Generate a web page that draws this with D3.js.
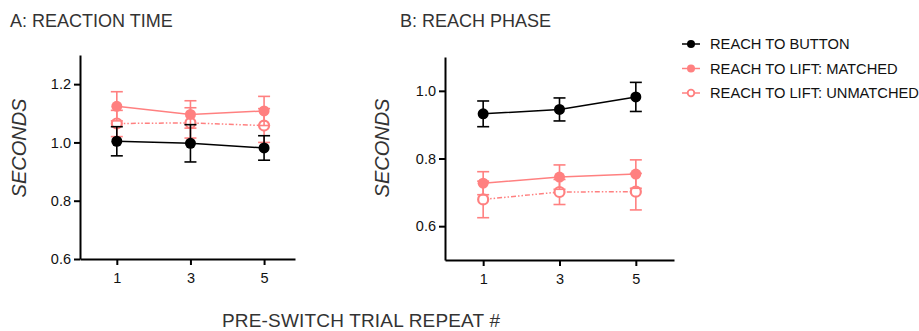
<!DOCTYPE html>
<html>
<head>
<meta charset="utf-8" />
<script src="https://cdn.jsdelivr.net/npm/d3@7"></script>
<style>
  html, body { margin: 0; padding: 0; background: #fff; }
  svg { font-family: "Liberation Sans", Arial, sans-serif; }
</style>
</head>
<body>
<div id="chart"></div>
<script>
// data
var repeats = [1, 3, 5];
var seriesNames = ['REACH TO BUTTON', 'REACH TO LIFT: MATCHED', 'REACH TO LIFT: UNMATCHED'];

var rtButton = [1.004, 0.997, 0.981];
var rtButtonErr = [0.050, 0.064, 0.042];
var rtMatched = [1.124, 1.096, 1.108];
var rtMatchedErr = [0.050, 0.047, 0.050];
var rtUnmatched = [1.065, 1.067, 1.058];
var rtUnmatchedErr = [0.045, 0.052, 0.058];

var rpButton = [0.932, 0.945, 0.982];
var rpButtonErr = [0.038, 0.034, 0.043];
var rpMatched = [0.727, 0.745, 0.754];
var rpMatchedErr = [0.034, 0.036, 0.042];
var rpUnmatched = [0.679, 0.701, 0.702];
var rpUnmatchedErr = [0.054, 0.037, 0.054];

var yTicksA = [0.6, 0.8, 1.0, 1.2];
var yTicksB = [0.6, 0.8, 1.0];

var pink = '#ff8080';

var svg = d3.select('#chart').append('svg')
    .attr('width', 919)
    .attr('height', 331);

function drawPanel(opts) {
    var x = d3.scaleLinear().domain([0, opts.xMax]).range([opts.left, opts.right]);
    var y = d3.scaleLinear().domain(opts.yDomain).range([opts.bottom, opts.top]);

    var g = svg.append('g');

    var series = [
        { vals: opts.button, err: opts.buttonErr, color: '#000', open: false, dash: null },
        { vals: opts.matched, err: opts.matchedErr, color: pink, open: false, dash: null },
        { vals: opts.unmatched, err: opts.unmatchedErr, color: pink, open: true, dash: '5,2,1.5,2,1.5,2' }
    ];
    // draw order: unmatched, matched, button
    var order = [2, 1, 0];

    var line = d3.line()
        .x(function (d, i) { return x(repeats[i]); })
        .y(function (d) { return y(d); });

    order.forEach(function (k) {
        var s = series[k];
        var sg = g.append('g');
        // error bars
        s.vals.forEach(function (v, i) {
            var cx = x(repeats[i]);
            sg.append('line')
                .attr('x1', cx).attr('x2', cx)
                .attr('y1', y(v - s.err[i])).attr('y2', y(v + s.err[i]))
                .attr('stroke', s.color).attr('stroke-width', 1.6);
            [v - s.err[i], v + s.err[i]].forEach(function (e) {
                sg.append('line')
                    .attr('x1', cx - 6).attr('x2', cx + 6)
                    .attr('y1', y(e)).attr('y2', y(e))
                    .attr('stroke', s.color).attr('stroke-width', 1.6);
            });
        });
        sg.append('path')
            .datum(s.vals)
            .attr('d', line)
            .attr('fill', 'none')
            .attr('stroke', s.color)
            .attr('stroke-width', 1.5)
            .attr('stroke-dasharray', s.dash);
        sg.selectAll('circle')
            .data(s.vals)
            .enter().append('circle')
            .attr('cx', function (d, i) { return x(repeats[i]); })
            .attr('cy', function (d) { return y(d); })
            .attr('r', s.open ? 5 : 5.5)
            .attr('fill', s.open ? '#fff' : s.color)
            .attr('stroke', s.color)
            .attr('stroke-width', s.open ? 2.2 : 0);
    });

    // axes
    var yAxis = g.append('g')
        .attr('transform', 'translate(' + opts.left + ',0)')
        .call(d3.axisLeft(y).tickValues(opts.yTicks).tickFormat(d3.format('.1f')).tickSize(6).tickSizeOuter(0));
    var xAxis = g.append('g')
        .attr('transform', 'translate(0,' + opts.bottom + ')')
        .call(d3.axisBottom(x).tickValues(repeats).tickFormat(d3.format('d')).tickSize(6).tickSizeOuter(0));

    [yAxis, xAxis].forEach(function (a) {
        a.select('.domain').attr('stroke', '#000').attr('stroke-width', 2);
        a.selectAll('.tick line').attr('stroke', '#000').attr('stroke-width', 2);
        a.selectAll('.tick text').attr('fill', '#111').attr('font-size', 14.5)
            .attr('font-family', '"Liberation Sans", Arial, sans-serif');
    });
    yAxis.selectAll('.tick text').attr('x', -9);
    xAxis.selectAll('.tick text').attr('y', 14);

    // titles
    svg.append('text')
        .attr('x', opts.titleX).attr('y', 27)
        .attr('font-size', 18).attr('fill', '#333')
        .text(opts.title);

    svg.append('text')
        .attr('transform', 'translate(' + opts.ylabX + ',' + opts.ylabY + ') rotate(-90)')
        .attr('text-anchor', 'middle')
        .attr('font-size', 20).attr('font-style', 'italic').attr('fill', '#333')
        .text('SECONDS');
}

drawPanel({
    left: 80, right: 295, top: 55, bottom: 259, xMax: 5.84,
    yDomain: [0.6, 1.3], yTicks: yTicksA,
    button: rtButton, buttonErr: rtButtonErr,
    matched: rtMatched, matchedErr: rtMatchedErr,
    unmatched: rtUnmatched, unmatchedErr: rtUnmatchedErr,
    title: 'A: REACTION TIME', titleX: 10, ylabX: 26, ylabY: 148
});

drawPanel({
    left: 445, right: 674, top: 57, bottom: 260, xMax: 6,
    yDomain: [0.5, 1.1], yTicks: yTicksB,
    button: rpButton, buttonErr: rpButtonErr,
    matched: rpMatched, matchedErr: rpMatchedErr,
    unmatched: rpUnmatched, unmatchedErr: rpUnmatchedErr,
    title: 'B: REACH PHASE', titleX: 400, ylabX: 389, ylabY: 148
});

// legend
var legend = svg.append('g');
var legendStyles = [
    { color: '#000', open: false, dash: null },
    { color: pink, open: false, dash: null },
    { color: pink, open: true, dash: null }
];
seriesNames.forEach(function (name, i) {
    var ly = 44 + i * 24.5;
    var st = legendStyles[i];
    legend.append('line')
        .attr('x1', 682).attr('x2', 700)
        .attr('y1', ly).attr('y2', ly)
        .attr('stroke', st.color).attr('stroke-width', 1.5);
    legend.append('circle')
        .attr('cx', 691).attr('cy', ly)
        .attr('r', st.open ? 3.3 : 4)
        .attr('fill', st.open ? '#fff' : st.color)
        .attr('stroke', st.color)
        .attr('stroke-width', st.open ? 1.8 : 0);
    legend.append('text')
        .attr('x', 710).attr('y', ly + 5)
        .attr('font-size', 14.7).attr('fill', '#111')
        .text(name);
});

// shared x label
svg.append('text')
    .attr('x', 222).attr('y', 327)
    .attr('font-size', 19).attr('fill', '#333')
    .attr('textLength', 278)
    .text('PRE-SWITCH TRIAL REPEAT #');
</script>
</body>
</html>
